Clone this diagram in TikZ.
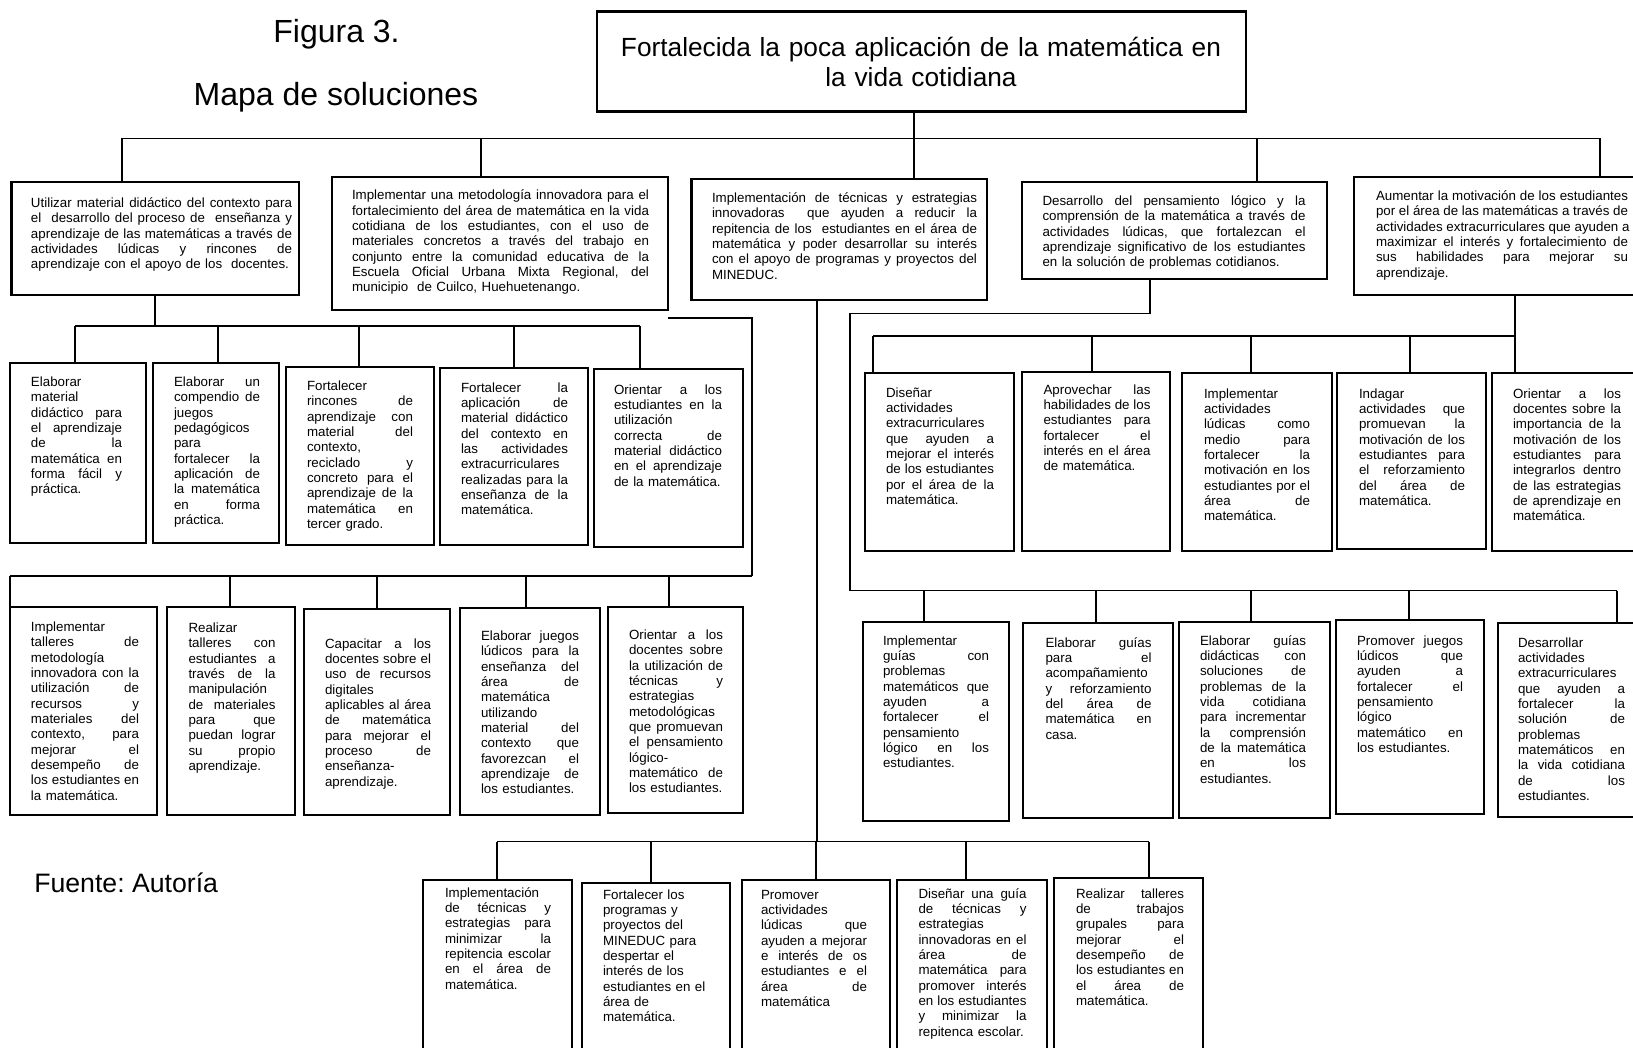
\documentclass[tikz,border=0pt]{standalone}
\usepackage{fontspec}
\setmainfont{Liberation Sans}
\newlength\Jw
\newcommand\J[1]{\leavevmode{\spaceskip=2.78pt plus 1fil\relax\hbox to \Jw{#1}}}
\hbadness=10000
\hfuzz=20pt
\hyphenpenalty=10000
\exhyphenpenalty=10000
\frenchspacing
\tikzset{
  box/.style={draw, line width=2.2pt, inner sep=0pt, outer sep=0pt},
  txt/.style={anchor=base west, inner sep=0pt, outer sep=0pt, align=left, font=\fontsize{10}{11.5}\selectfont},
  conn/.style={draw, line width=0.8pt}
}
\newcommand\mkbox[5]{\node[box, minimum width={(#4-#2)*0.75pt}, minimum height={(#5-#3)*0.75pt}] (#1) at ({(#2+#4)/2},{(#3+#5)/2}) {};}
\newcommand\mktext[5]{\node[txt, text width={#4*0.75pt}] (#1) at (#2,#3) {\global\Jw=\dimexpr #4pt*3/4\relax #5};}
\newcommand\drop[3]{\draw[conn] (#1 |- #2) -- (#1 |- #3.north);}
\begin{document}
\begin{tikzpicture}[x=0.75pt,y=-0.75pt]
\useasboundingbox (0,0) rectangle (1633,1048);
\clip (0,0) rectangle (1633,1048);
\fill[white] (0,0) rectangle (1633,1048);

% titles
\node[anchor=base, inner sep=0pt, font=\fontsize{24}{28}\selectfont] (fig) at (336.5,43) {Figura 3.};
\node[anchor=base, inner sep=0pt, font=\fontsize{24}{28}\selectfont] (mapa) at (336,106) {Mapa de soluciones};
\node[anchor=base west, inner sep=0pt, font=\fontsize{20}{24}\selectfont] (fuente) at (34,892.5) {Fuente: Autoría};

% top box
\mkbox{top}{597}{11.5}{1246}{111.4}
\node[anchor=base, inner sep=0pt, text width={700*0.75pt}, align=center, font=\fontsize{19.7}{22.6}\selectfont] (toptxt) at (921,56.4) {Fortalecida la poca aplicación de la matemática en\\la vida cotidiana};

% level 1 boxes
\mkbox{b1}{11.5}{182}{299}{295}
\mkbox{b2}{332}{177}{668}{310}
\mkbox{b3}{691.5}{179}{987}{300}
\mkbox{b4}{1022}{182}{1327}{279}
\mkbox{b5}{1354}{177}{1637}{295}

\mktext{b1t}{31}{207.5}{261}{\J{Utilizar material didáctico del contexto para}\\\J{el\ \ desarrollo del proceso de\ \ enseñanza y}\\\J{aprendizaje de las matemáticas a través de}\\\J{actividades lúdicas y rincones de}\\aprendizaje con el apoyo de los\ \ docentes.}
\mktext{b2t}{352}{200}{297}{\J{Implementar una metodología innovadora para el}\\\J{fortalecimiento del área de matemática en la vida}\\\J{cotidiana de los estudiantes, con el uso de}\\\J{materiales concretos a través del trabajo en}\\\J{conjunto entre la comunidad educativa de la}\\\J{Escuela Oficial Urbana Mixta Regional, del}\\municipio\ \ de Cuilco, Huehuetenango.}
\mktext{b3t}{712}{202.5}{265}{\J{Implementación de técnicas y estrategias}\\\J{innovadoras\ \ que ayuden a reducir la}\\\J{repitencia de los\ \ estudiantes en el área de}\\\J{matemática y poder desarrollar su interés}\\\J{con el apoyo de programas y proyectos del}\\MINEDUC.}
\mktext{b4t}{1042.5}{205.5}{263}{\J{Desarrollo del pensamiento lógico y la}\\\J{comprensión de la matemática a través de}\\\J{actividades lúdicas, que fortalezcan el}\\\J{aprendizaje significativo de los estudiantes}\\en la solución de problemas cotidianos.}
\mktext{b5t}{1376}{200.5}{252}{\J{Aumentar la motivación de los estudiantes}\\\J{por el área de las matemáticas a través de}\\\J{actividades extracurriculares que ayuden a}\\\J{maximizar el interés y fortalecimiento de}\\\J{sus habilidades para mejorar su}\\aprendizaje.}

% row C
\mkbox{c1}{10}{363}{146}{543}
\mkbox{c2}{153}{363}{279}{543}
\mkbox{c3}{286}{367}{434}{545}
\mkbox{c4}{440}{368}{588}{545}
\mkbox{c5}{594}{369}{743}{547}
\mktext{c1t}{31}{386.5}{91}{\J{Elaborar}\\\J{material}\\\J{didáctico para}\\\J{el aprendizaje}\\\J{de la}\\\J{matemática en}\\\J{forma fácil y}\\práctica.}
\mktext{c2t}{174}{386.5}{86}{\J{Elaborar un}\\\J{compendio de}\\\J{juegos}\\\J{pedagógicos}\\\J{para}\\\J{fortalecer la}\\\J{aplicación de}\\\J{la matemática}\\\J{en forma}\\práctica.}
\mktext{c3t}{307}{390.5}{106}{\J{Fortalecer}\\\J{rincones de}\\\J{aprendizaje con}\\\J{material del}\\\J{contexto,}\\\J{reciclado y}\\\J{concreto para el}\\\J{aprendizaje de la}\\\J{matemática en}\\tercer grado.}
\mktext{c4t}{461}{392}{107}{\J{Fortalecer la}\\\J{aplicación de}\\\J{material didáctico}\\\J{del contexto en}\\\J{las actividades}\\\J{extracurriculares}\\\J{realizadas para la}\\\J{enseñanza de la}\\matemática.}
\mktext{c5t}{614}{394}{108}{\J{Orientar a los}\\\J{estudiantes en la}\\\J{utilización}\\\J{correcta de}\\\J{material didáctico}\\\J{en el aprendizaje}\\de la matemática.}

% row D
\mkbox{d1}{10}{607}{157}{815}
\mkbox{d2}{167}{607}{295}{815}
\mkbox{d3}{304}{609}{450}{815}
\mkbox{d4}{460}{608}{600}{815}
\mkbox{d5}{608}{607}{743}{813}
\mktext{d1t}{31}{631.5}{108}{\J{Implementar}\\\J{talleres de}\\\J{metodología}\\\J{innovadora con la}\\\J{utilización de}\\\J{recursos y}\\\J{materiales del}\\\J{contexto, para}\\\J{mejorar el}\\\J{desempeño de}\\\J{los estudiantes en}\\la matemática.}
\mktext{d2t}{188.5}{632.5}{87}{\J{Realizar}\\\J{talleres con}\\\J{estudiantes a}\\\J{través de la}\\\J{manipulación}\\\J{de materiales}\\\J{para que}\\\J{puedan lograr}\\\J{su propio}\\aprendizaje.}
\mktext{d3t}{325}{648}{106}{\J{Capacitar a los}\\\J{docentes sobre el}\\\J{uso de recursos}\\\J{digitales}\\\J{aplicables al área}\\\J{de matemática}\\\J{para mejorar el}\\\J{proceso de}\\\J{enseñanza-}\\aprendizaje.}
\mktext{d4t}{481}{640.5}{98}{\J{Elaborar juegos}\\\J{lúdicos para la}\\\J{enseñanza del}\\\J{área de}\\\J{matemática}\\\J{utilizando}\\\J{material del}\\\J{contexto que}\\\J{favorezcan el}\\\J{aprendizaje de}\\los estudiantes.}
\mktext{d5t}{629}{639.5}{94}{\J{Orientar a los}\\\J{docentes sobre}\\\J{la utilización de}\\\J{técnicas y}\\\J{estrategias}\\\J{metodológicas}\\\J{que promuevan}\\\J{el pensamiento}\\\J{lógico-}\\\J{matemático de}\\los estudiantes.}

% row E
\mkbox{e1}{865}{373}{1014}{551}
\mkbox{e2}{1022}{372}{1170}{551}
\mkbox{e3}{1182}{373}{1332}{551}
\mkbox{e4}{1337}{373}{1486}{549}
\mkbox{e5}{1492}{373}{1637}{551}
\mktext{e1t}{886}{397}{108}{\J{Diseñar}\\\J{actividades}\\\J{extracurriculares}\\\J{que ayuden a}\\\J{mejorar el interés}\\\J{de los estudiantes}\\\J{por el área de la}\\matemática.}
\mktext{e2t}{1043.5}{394}{107}{\J{Aprovechar las}\\\J{habilidades de los}\\\J{estudiantes para}\\\J{fortalecer el}\\\J{interés en el área}\\de matemática.}
\mktext{e3t}{1204}{398}{106}{\J{Implementar}\\\J{actividades}\\\J{lúdicas como}\\\J{medio para}\\\J{fortalecer la}\\\J{motivación en los}\\\J{estudiantes por el}\\\J{área de}\\matemática.}
\mktext{e4t}{1359}{398}{106}{\J{Indagar}\\\J{actividades que}\\\J{promuevan la}\\\J{motivación de los}\\\J{estudiantes para}\\\J{el reforzamiento}\\\J{del área de}\\matemática.}
\mktext{e5t}{1513}{398}{108}{\J{Orientar a los}\\\J{docentes sobre la}\\\J{importancia de la}\\\J{motivación de los}\\\J{estudiantes para}\\\J{integrarlos dentro}\\\J{de las estrategias}\\\J{de aprendizaje en}\\matemática.}

% row F
\mkbox{f1}{863}{622}{1009}{821}
\mkbox{f2}{1023}{623}{1173}{818}
\mkbox{f3}{1179}{622}{1330}{818}
\mkbox{f4}{1336}{620}{1484}{814}
\mkbox{f5}{1498}{623}{1637}{817}
\mktext{f1t}{883}{645}{106}{\J{Implementar}\\\J{guías con}\\\J{problemas}\\\J{matemáticos que}\\\J{ayuden a}\\\J{fortalecer el}\\\J{pensamiento}\\\J{lógico en los}\\estudiantes.}
\mktext{f2t}{1045.5}{647}{106}{\J{Elaborar guías}\\\J{para el}\\\J{acompañamiento}\\\J{y reforzamiento}\\\J{del área de}\\\J{matemática en}\\casa.}
\mktext{f3t}{1200}{645}{106}{\J{Elaborar guías}\\\J{didácticas con}\\\J{soluciones de}\\\J{problemas de la}\\\J{vida cotidiana}\\\J{para incrementar}\\\J{la comprensión}\\\J{de la matemática}\\\J{en los}\\estudiantes.}
\mktext{f4t}{1357}{645}{106}{\J{Promover juegos}\\\J{lúdicos que}\\\J{ayuden a}\\\J{fortalecer el}\\\J{pensamiento}\\\J{lógico}\\\J{matemático en}\\los estudiantes.}
\mktext{f5t}{1518}{647}{107}{\J{Desarrollar}\\\J{actividades}\\\J{extracurriculares}\\\J{que ayuden a}\\\J{fortalecer la}\\\J{solución de}\\\J{problemas}\\\J{matemáticos en}\\\J{la vida cotidiana}\\\J{de los}\\estudiantes.}

% row G
\mkbox{g1}{423}{880}{572}{1070}
\mkbox{g2}{582}{883}{730}{1070}
\mkbox{g3}{742}{880}{890}{1070}
\mkbox{g4}{897}{880}{1047}{1070}
\mkbox{g5}{1054}{878}{1203}{1070}
\mktext{g1t}{445}{897}{106}{\J{Implementación}\\\J{de técnicas y}\\\J{estrategias para}\\\J{minimizar la}\\\J{repitencia escolar}\\\J{en el área de}\\matemática.}
\mktext{g2t}{603}{899}{110}{Fortalecer los\\programas y\\proyectos del\\MINEDUC para\\despertar el\\interés de los\\estudiantes en el\\área de\\matemática.}
\mktext{g3t}{761}{899}{106}{\J{Promover}\\\J{actividades}\\\J{lúdicas que}\\\J{ayuden a mejorar}\\\J{e interés de os}\\\J{estudiantes e el}\\\J{área de}\\matemática}
\mktext{g4t}{918.5}{898}{108}{\J{Diseñar una guía}\\\J{de técnicas y}\\\J{estrategias}\\\J{innovadoras en el}\\\J{área de}\\\J{matemática para}\\\J{promover interés}\\\J{en los estudiantes}\\\J{y minimizar la}\\repitenca escolar.}
\mktext{g5t}{1076}{898}{108}{\J{Realizar talleres}\\\J{de trabajos}\\\J{grupales para}\\\J{mejorar el}\\\J{desempeño de}\\\J{los estudiantes en}\\\J{el área de}\\matemática.}

% ---------- connectors ----------
\coordinate (T) at (0,138.5);
\coordinate (L1) at (0,326);
\coordinate (K) at (0,318);
\coordinate (L2) at (0,576);
\coordinate (M) at (0,841.5);
\coordinate (R1) at (0,313.5);
\coordinate (R2) at (0,590.5);
\coordinate (R3) at (0,336);

% top
\draw[conn] (top.south -| 914,0) -- (914,0 |- T);
\draw[conn] (122,0 |- T) -- (1600,0 |- T);
\drop{122,0}{T}{b1}
\drop{481,0}{T}{b2}
\drop{914,0}{T}{b3}
\drop{1257,0}{T}{b4}
\drop{1600,0}{T}{b5}

% left upper group
\draw[conn] (b1.south -| 155,0) -- (155,0 |- L1);
\draw[conn] (75,0 |- L1) -- (640,0 |- L1);
\drop{75,0}{L1}{c1}
\drop{218,0}{L1}{c2}
\drop{359,0}{L1}{c3}
\drop{514,0}{L1}{c4}
\drop{640,0}{L1}{c5}

% left lower group
\draw[conn] (b2.east |- K) -- (752,0 |- K) -- (752,0 |- L2);
\draw[conn] (10,0 |- L2) -- (752,0 |- L2);
\drop{10,0}{L2}{d1}
\drop{230,0}{L2}{d2}
\drop{377,0}{L2}{d3}
\drop{526,0}{L2}{d4}
\drop{669,0}{L2}{d5}

% center group
\draw[conn] (b3.south -| 817,0) -- (817,0 |- M);
\draw[conn] (497,0 |- M) -- (1149,0 |- M);
\drop{497,0}{M}{g1}
\drop{651,0}{M}{g2}
\drop{816,0}{M}{g3}
\drop{966,0}{M}{g4}
\drop{1149,0}{M}{g5}

% right lower group
\draw[conn] (b4.south -| 1150,0) -- (1150,0 |- R1) -- (850,0 |- R1) -- (850,0 |- R2);
\draw[conn] (850,0 |- R2) -- (1617,0 |- R2);
\drop{924,0}{R2}{f1}
\drop{1096,0}{R2}{f2}
\drop{1251,0}{R2}{f3}
\drop{1409,0}{R2}{f4}
\drop{1617,0}{R2}{f5}

% right upper group
\draw[conn] (b5.south -| 1515,0) -- (1515,0 |- R3);
\draw[conn] (873,0 |- R3) -- (1515,0 |- R3);
\drop{873,0}{R3}{e1}
\drop{1092,0}{R3}{e2}
\drop{1251,0}{R3}{e3}
\drop{1410,0}{R3}{e4}
\drop{1515,0}{R3}{e5}
\end{tikzpicture}
\end{document}
